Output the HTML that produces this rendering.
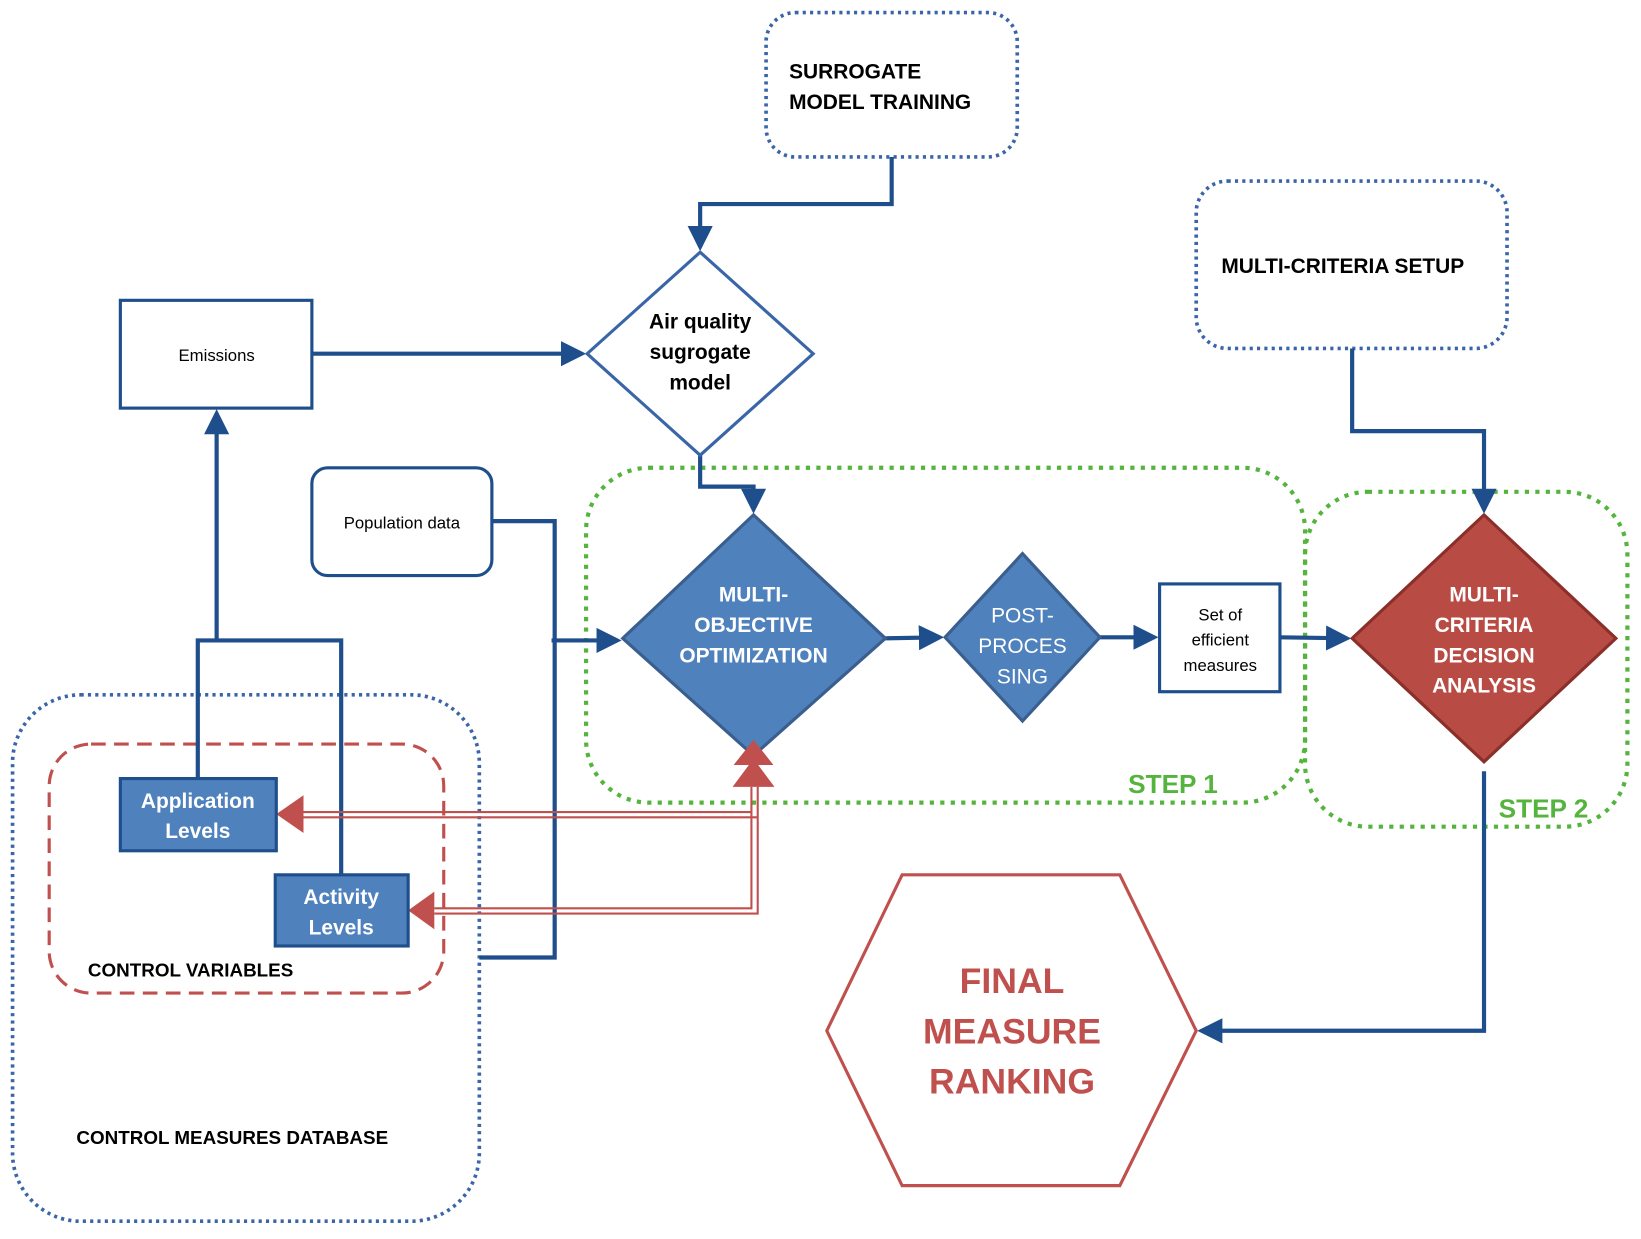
<!DOCTYPE html>
<html><head><meta charset="utf-8"><style>html,body{margin:0;padding:0;background:#fff}svg{display:block}text{font-family:"Liberation Sans",sans-serif}</style></head><body>
<svg width="1641" height="1239" viewBox="0 0 1568 1184" preserveAspectRatio="none" xmlns="http://www.w3.org/2000/svg">
<defs>
<marker id="ab" markerWidth="6" markerHeight="6" refX="5" refY="3" orient="auto" markerUnits="strokeWidth"><path d="M0,0 L6,3 L0,6 Z" fill="#1f4e8c"/></marker>
</defs>
<g fill="none" stroke="#1f4e8c" stroke-width="4" stroke-linejoin="miter">
<rect x="732" y="12" width="240" height="138" rx="28" stroke="#3a66a8" stroke-width="3.5" stroke-dasharray="3,4"/>
<rect x="1143" y="173" width="297" height="160" rx="30" stroke="#3a66a8" stroke-width="3.5" stroke-dasharray="3,4"/>
<rect x="12" y="664" width="446" height="503" rx="65" stroke="#3a66a8" stroke-width="3.5" stroke-dasharray="3,4"/>
<rect x="47" y="711" width="377" height="238" rx="40" stroke="#c0504d" stroke-width="3" stroke-dasharray="14,8"/>
<rect x="560" y="447" width="687" height="320" rx="60" stroke="#55b43e" stroke-width="4" stroke-dasharray="4,6"/>
<rect x="1247" y="470" width="308" height="320" rx="60" stroke="#55b43e" stroke-width="4" stroke-dasharray="4,6"/>
<path d="M852,150 V195 H669 V236" marker-end="url(#ab)"/>
<path d="M298,338 H556" marker-end="url(#ab)"/>
<path d="M1292,333 V412 H1418 V487" marker-end="url(#ab)"/>
<path d="M669,435 V465 H720 V487" marker-end="url(#ab)"/>
<path d="M470,498 H530 V915 H458"/>
<path d="M527,612 H590" marker-end="url(#ab)"/>
<path d="M846,610 L898,609" marker-end="url(#ab)"/>
<path d="M1051,609 L1103,609" marker-end="url(#ab)"/>
<path d="M1223,609 L1287,610" marker-end="url(#ab)"/>
<path d="M1418,737 V985 H1148" marker-end="url(#ab)"/>
<path d="M189,744 V612 H326 V836"/>
<path d="M207,612 V395" marker-end="url(#ab)"/>
</g>
<g fill="none" stroke="#c0504d" stroke-width="2">
<path d="M718,752 V776 H290 M718,752 V868 H415"/>
<path d="M724,752 V781 H290 M724,752 V873 H415"/>
</g>
<path d="M264,778 L290,760 L290,796 Z" fill="#c0504d"/>
<path d="M390,870 L415,852 L415,888 Z" fill="#c0504d"/>
<rect x="115" y="287" width="183" height="103" fill="#fff" stroke="#1f4e8c" stroke-width="3"/>
<rect x="298" y="447" width="172" height="103" rx="15" fill="#fff" stroke="#1f4e8c" stroke-width="3"/>
<polygon points="669,241 777,338 669,435 561,338" fill="#fff" stroke="#3a66a8" stroke-width="3"/>
<polygon points="720,492 846,610 720,722 595,610" fill="#4f81bd" stroke="#3a5f8f" stroke-width="3"/>
<path d="M720,707 L701,731 L739,731 Z M720,725 L700,752 L740,752 Z" fill="#c0504d"/>
<polygon points="977,529 1051,609 977,689 903,609" fill="#4f81bd" stroke="#3a5f8f" stroke-width="3"/>
<rect x="1108" y="558" width="115" height="103" fill="#fff" stroke="#1f4e8c" stroke-width="3"/>
<polygon points="1418,492 1544,610 1418,728 1292,610" fill="#b84c45" stroke="#8b2f2a" stroke-width="3"/>
<rect x="115" y="744" width="149" height="69" fill="#4f81bd" stroke="#1f4e8c" stroke-width="3"/>
<rect x="263" y="836" width="127" height="68" fill="#4f81bd" stroke="#1f4e8c" stroke-width="3"/>
<polygon points="790,985 862,836 1070,836 1143,985 1070,1133 862,1133" fill="#fff" stroke="#c0504d" stroke-width="3"/>
<g font-weight="bold" font-size="20" fill="#000">
<text x="754" y="75">SURROGATE</text><text x="754" y="104">MODEL TRAINING</text>
<text x="1167" y="261">MULTI-CRITERIA SETUP</text>
<text x="73" y="1093" font-size="18">CONTROL MEASURES DATABASE</text>
<text x="84" y="933" font-size="18">CONTROL VARIABLES</text>
<g text-anchor="middle"><text x="669" y="314">Air quality</text><text x="669" y="343">sugrogate</text><text x="669" y="372">model</text></g>
</g>
<g font-size="16" fill="#000" text-anchor="middle">
<text x="207" y="345">Emissions</text>
<text x="384" y="505">Population data</text>
<text x="1166" y="593">Set of</text><text x="1166" y="617">efficient</text><text x="1166" y="641">measures</text>
</g>
<g font-weight="bold" font-size="20" fill="#fff" text-anchor="middle">
<text x="720" y="575">MULTI-</text><text x="720" y="604">OBJECTIVE</text><text x="720" y="633">OPTIMIZATION</text>
<text x="1418" y="575">MULTI-</text><text x="1418" y="604">CRITERIA</text><text x="1418" y="633">DECISION</text><text x="1418" y="662">ANALYSIS</text>
<text x="189" y="772">Application</text><text x="189" y="801">Levels</text>
<text x="326" y="864">Activity</text><text x="326" y="893">Levels</text>
</g>
<g font-size="20" fill="#fff" text-anchor="middle"><text x="977" y="595">POST-</text><text x="977" y="624">PROCES</text><text x="977" y="653">SING</text></g>
<g font-weight="bold" font-size="25" fill="#55b43e"><text x="1078" y="758">STEP 1</text><text x="1432" y="781">STEP 2</text></g>
<g font-weight="bold" font-size="34" fill="#c0504d" text-anchor="middle"><text x="967" y="949">FINAL</text><text x="967" y="997">MEASURE</text><text x="967" y="1045">RANKING</text></g>
</svg>
</body></html>
